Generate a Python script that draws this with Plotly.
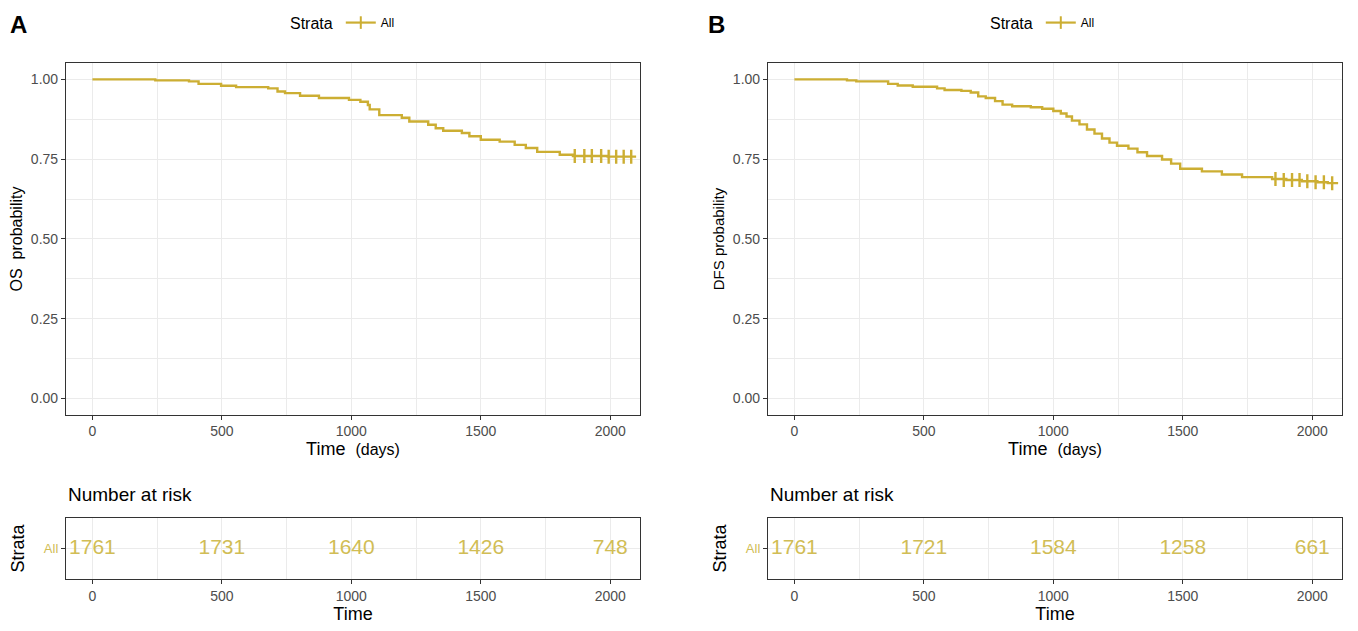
import plotly.graph_objects as go

# OS (panel A) Kaplan-Meier steps
os_time = [0, 243, 373, 410, 497, 555, 679, 715, 744, 802, 875, 991, 1035, 1064, 1071,
           1108, 1195, 1224, 1297, 1326, 1355, 1427, 1456, 1500, 1573, 1631, 1674, 1718,
           1805, 1856, 1990, 2100]
os_surv = [1.0, 0.997, 0.994, 0.986, 0.980, 0.976, 0.972, 0.962, 0.957, 0.949, 0.942,
           0.936, 0.930, 0.920, 0.906, 0.888, 0.880, 0.868, 0.858, 0.847, 0.839, 0.832,
           0.822, 0.811, 0.805, 0.795, 0.785, 0.773, 0.764, 0.760, 0.758, 0.758]
os_cens_time = [1863, 1900, 1929, 1965, 1994, 2023, 2052, 2081]
os_cens_surv = [0.760, 0.760, 0.760, 0.760, 0.758, 0.758, 0.758, 0.758]

# DFS (panel B)
dfs_time = [0, 203, 239, 362, 399, 457, 551, 580, 645, 681, 710, 739, 775, 804, 841, 913,
            957, 1000, 1029, 1051, 1072, 1101, 1130, 1159, 1188, 1217, 1246, 1290, 1325,
            1362, 1420, 1455, 1490, 1574, 1651, 1729, 1845, 1900, 1960, 2020, 2060, 2100]
dfs_surv = [1.0, 0.997, 0.994, 0.986, 0.981, 0.977, 0.972, 0.967, 0.964, 0.959, 0.947,
            0.942, 0.932, 0.921, 0.916, 0.913, 0.908, 0.901, 0.893, 0.884, 0.871, 0.859,
            0.843, 0.830, 0.815, 0.802, 0.792, 0.783, 0.772, 0.760, 0.749, 0.736, 0.720,
            0.712, 0.702, 0.694, 0.688, 0.685, 0.681, 0.678, 0.675, 0.675]
dfs_cens_time = [1858, 1890, 1922, 1951, 1981, 2013, 2045, 2077]
dfs_cens_surv = [0.688, 0.685, 0.685, 0.685, 0.681, 0.678, 0.678, 0.675]

# number at risk
risk_time = [0, 500, 1000, 1500, 2000]
os_risk = [1761, 1731, 1640, 1426, 748]
dfs_risk = [1761, 1721, 1584, 1258, 661]

GOLD = "#CCAE33"
RISK_COL = "#D1BD55"
GRID = "#EBEBEB"
FONT = "Liberation Sans"
W, H = 1358, 631
OFF = 8  # the page adds an 8px body margin

fig = go.Figure()

panels = [
    ("", "legend", os_time, os_surv, os_cens_time, os_cens_surv, os_risk),
    ("2", "legend2", dfs_time, dfs_surv, dfs_cens_time, dfs_cens_surv, dfs_risk),
]
for i, (m, leg, t, s, ct, cs, risk) in enumerate(panels):
    tabax = str(3 + i)
    fig.add_trace(go.Scatter(x=t, y=s, mode="lines", line=dict(color=GOLD, width=2.4, shape="hv"),
                             xaxis="x" + m, yaxis="y" + m, showlegend=False, hoverinfo="skip"))
    fig.add_trace(go.Scatter(x=ct, y=cs, mode="markers",
                             marker=dict(symbol="line-ns", size=10, line=dict(color=GOLD, width=2.4)),
                             xaxis="x" + m, yaxis="y" + m, showlegend=False))
    # legend entry only
    fig.add_trace(go.Scatter(x=[None], y=[None], mode="lines+markers", name="All",
                             line=dict(color=GOLD, width=2.2),
                             marker=dict(symbol="line-ns", size=9, line=dict(color=GOLD, width=2)),
                             xaxis="x" + m, yaxis="y" + m, legend=leg))
    fig.add_trace(go.Scatter(x=risk_time, y=[0] * len(risk_time), mode="text",
                             text=[str(v) for v in risk],
                             textfont=dict(family=FONT, size=21, color=RISK_COL),
                             xaxis="x" + tabax, yaxis="y" + tabax, showlegend=False))

def px_x(p):
    return (p - OFF) / W

def px_y(p):
    return 1 - (p - OFF) / H

tick_font = dict(family=FONT, size=14, color="#4D4D4D")
common_x = dict(range=[-102, 2115], tickvals=risk_time, ticks="outside", ticklen=4,
                tickcolor="#333333", tickfont=tick_font,
                showline=True, linecolor="#333333", linewidth=1.2, mirror=True,
                showgrid=True, gridcolor=GRID, zeroline=False,
                minor=dict(dtick=250, tick0=0, showgrid=True, gridcolor=GRID))

main_y = dict(range=[-0.05, 1.05], tickvals=[0, 0.25, 0.5, 0.75, 1.0], tickformat=".2f",
              ticks="outside", ticklen=4, tickcolor="#333333", tickfont=tick_font,
              showline=True, linecolor="#333333", linewidth=1.2, mirror=True,
              showgrid=True, gridcolor=GRID, zeroline=False,
              minor=dict(dtick=0.125, tick0=0, showgrid=True, gridcolor=GRID))

tab_y = dict(range=[-1, 1], tickvals=[0], ticktext=["All"], ticks="outside", ticklen=4,
             tickcolor="#333333", tickfont=dict(family=FONT, size=13, color=RISK_COL),
             showline=True, linecolor="#333333", linewidth=1.2, mirror=True,
             showgrid=True, gridcolor=GRID, zeroline=False,
             title=dict(text="Strata", font=dict(family=FONT, size=18, color="black"), standoff=14))

time_days = "Time&nbsp; <span style='font-size:16px'>(days)</span>"
title_font = dict(family=FONT, size=18, color="black")

a_dom = [px_x(66), px_x(640)]
b_dom = [px_x(768), px_x(1342)]
main_dom = [px_y(412), px_y(57)]
tab_dom = [px_y(578), px_y(517)]

fig.update_layout(
    width=W, height=H,
    margin=dict(l=0, r=0, t=0, b=0),
    paper_bgcolor="white", plot_bgcolor="white",
    font=dict(family=FONT),
    xaxis=dict(common_x, domain=a_dom, anchor="y",
               title=dict(text=time_days, font=title_font, standoff=3)),
    yaxis=dict(main_y, domain=main_dom, anchor="x",
               title=dict(text="OS  probability", font=dict(family=FONT, size=16, color="black"), standoff=4)),
    xaxis2=dict(common_x, domain=b_dom, anchor="y2",
                title=dict(text=time_days, font=title_font, standoff=3)),
    yaxis2=dict(main_y, domain=main_dom, anchor="x2",
                title=dict(text="DFS probability", font=dict(family=FONT, size=15, color="black"), standoff=4)),
    xaxis3=dict(common_x, domain=a_dom, anchor="y3",
                title=dict(text="Time", font=title_font, standoff=0)),
    yaxis3=dict(tab_y, domain=tab_dom, anchor="x3"),
    xaxis4=dict(common_x, domain=b_dom, anchor="y4",
                title=dict(text="Time", font=title_font, standoff=0)),
    yaxis4=dict(tab_y, domain=tab_dom, anchor="x4"),
    legend=dict(orientation="h", x=px_x(344), xanchor="center", y=px_y(1), yanchor="top",
                title=dict(text="Strata", font=dict(family=FONT, size=16, color="black")),
                font=dict(family=FONT, size=12, color="black"), itemwidth=30),
    legend2=dict(orientation="h", x=px_x(1044), xanchor="center", y=px_y(1), yanchor="top",
                 title=dict(text="Strata", font=dict(family=FONT, size=16, color="black")),
                 font=dict(family=FONT, size=12, color="black"), itemwidth=30),
    annotations=[
        dict(text="<b>A</b>", x=px_x(8), y=px_y(18), xref="paper", yref="paper",
             xanchor="left", yanchor="middle", showarrow=False,
             font=dict(family=FONT, size=24, color="black")),
        dict(text="<b>B</b>", x=px_x(706), y=px_y(18), xref="paper", yref="paper",
             xanchor="left", yanchor="middle", showarrow=False,
             font=dict(family=FONT, size=24, color="black")),
        dict(text="Number at risk", x=px_x(66), y=px_y(493), xref="paper", yref="paper",
             xanchor="left", yanchor="middle", showarrow=False,
             font=dict(family=FONT, size=19, color="black")),
        dict(text="Number at risk", x=px_x(768), y=px_y(493), xref="paper", yref="paper",
             xanchor="left", yanchor="middle", showarrow=False,
             font=dict(family=FONT, size=19, color="black")),
    ],
)

fig.write_html("out.html")
